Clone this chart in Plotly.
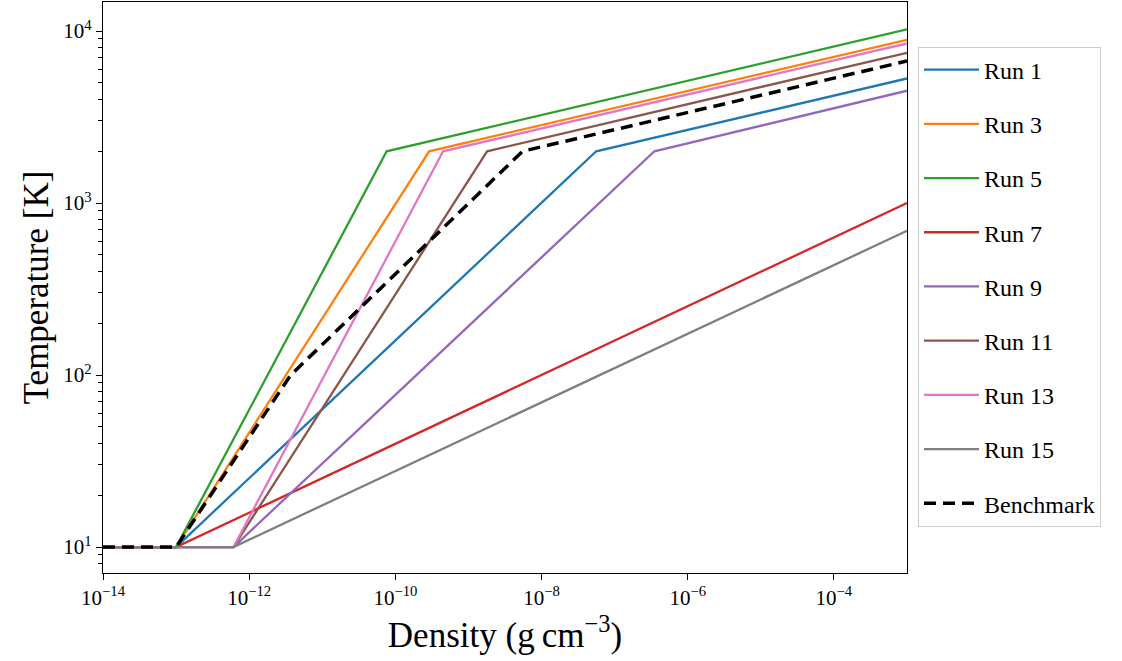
import plotly.graph_objects as go

# Density breakpoints (g cm^-3) and temperatures (K)
run1_rho = [1e-14, 1e-13, 5.6e-8, 1e-3]
run1_T = [10, 10, 2000, 5300]
run3_rho = [1e-14, 1e-13, 2.9e-10, 1e-3]
run3_T = [10, 10, 2000, 8900]
run5_rho = [1e-14, 1e-13, 7.6e-11, 1e-3]
run5_T = [10, 10, 2000, 10230]
run7_rho = [1e-14, 1e-13, 1e-3]
run7_T = [10, 10, 1000]
run9_rho = [1e-14, 6.1e-13, 3.5e-7, 1e-3]
run9_T = [10, 10, 2000, 4500]
run11_rho = [1e-14, 6.1e-13, 1.8e-9, 1e-3]
run11_T = [10, 10, 2000, 7480]
run13_rho = [1e-14, 6.1e-13, 4.5e-10, 1e-3]
run13_T = [10, 10, 2000, 8470]
run15_rho = [1e-14, 6.1e-13, 1e-3]
run15_T = [10, 10, 690]
bench_rho = [1e-14, 1e-13, 3.7e-12, 5.5e-9, 1e-3]
bench_T = [10, 10, 100, 2000, 6700]

names = ["Run 1", "Run 3", "Run 5", "Run 7", "Run 9", "Run 11", "Run 13", "Run 15"]
colors = ["#1f77b4", "#ff7f0e", "#2ca02c", "#d62728", "#9467bd", "#8c564b", "#e377c2", "#7f7f7f"]
series = [(run1_rho, run1_T), (run3_rho, run3_T), (run5_rho, run5_T), (run7_rho, run7_T),
          (run9_rho, run9_T), (run11_rho, run11_T), (run13_rho, run13_T), (run15_rho, run15_T)]

x_tickvals = [1e-14, 1e-12, 1e-10, 1e-8, 1e-6, 1e-4]
x_ticktext = ["10<sup>\u221214</sup>", "10<sup>\u221212</sup>", "10<sup>\u221210</sup>",
              "10<sup>\u22128</sup>", "10<sup>\u22126</sup>", "10<sup>\u22124</sup>"]
y_tickvals = [10, 100, 1000, 10000]
y_ticktext = ["10<sup>1</sup>", "10<sup>2</sup>", "10<sup>3</sup>", "10<sup>4</sup>"]

FONT = "Liberation Serif"

fig = go.Figure()
for i, (name, color, (rho, T)) in enumerate(zip(names, colors, series)):
    fig.add_trace(go.Scatter(x=rho, y=T, mode="lines", name=name, legendgroup=f"g{i}",
                             line=dict(color=color, width=2.3)))
fig.add_trace(go.Scatter(x=bench_rho, y=bench_T, mode="lines", name="Benchmark", legendgroup="gb",
                         line=dict(color="black", width=3.5, dash="12px,7px")))

axis_common = dict(showline=True, mirror=True, linecolor="black", linewidth=1.2,
                   ticks="outside", tickcolor="black", tickwidth=1.2, ticklen=6,
                   showgrid=False, zeroline=False,
                   tickfont=dict(family=FONT, size=21, color="black"))

fig.update_xaxes(type="log", range=[-14, -3], tickvals=x_tickvals, ticktext=x_ticktext,
                 title=dict(text="Density (g\u2009cm<sup>\u22123</sup>)",
                            font=dict(family=FONT, size=35, color="black"), standoff=6),
                 **axis_common)
fig.update_yaxes(type="log", range=[0.849, 4.169], tickvals=y_tickvals, ticktext=y_ticktext,
                 minor=dict(ticks="outside", ticklen=3.5, tickcolor="black", tickwidth=1,
                            dtick="D1", showgrid=False),
                 title=dict(text="Temperature [K]",
                            font=dict(family=FONT, size=35, color="black"), standoff=4),
                 **axis_common)

fig.update_layout(
    width=1122, height=661,
    margin=dict(l=103, r=215, t=2, b=88),
    plot_bgcolor="white", paper_bgcolor="white",
    font=dict(family=FONT, color="black"),
    legend=dict(x=1.0137, y=0.922, xanchor="left", yanchor="top",
                bordercolor="#cccccc", borderwidth=1, bgcolor="white",
                font=dict(family=FONT, size=24, color="black"),
                itemwidth=55, tracegroupgap=20),
)

fig.write_html("out.html")
